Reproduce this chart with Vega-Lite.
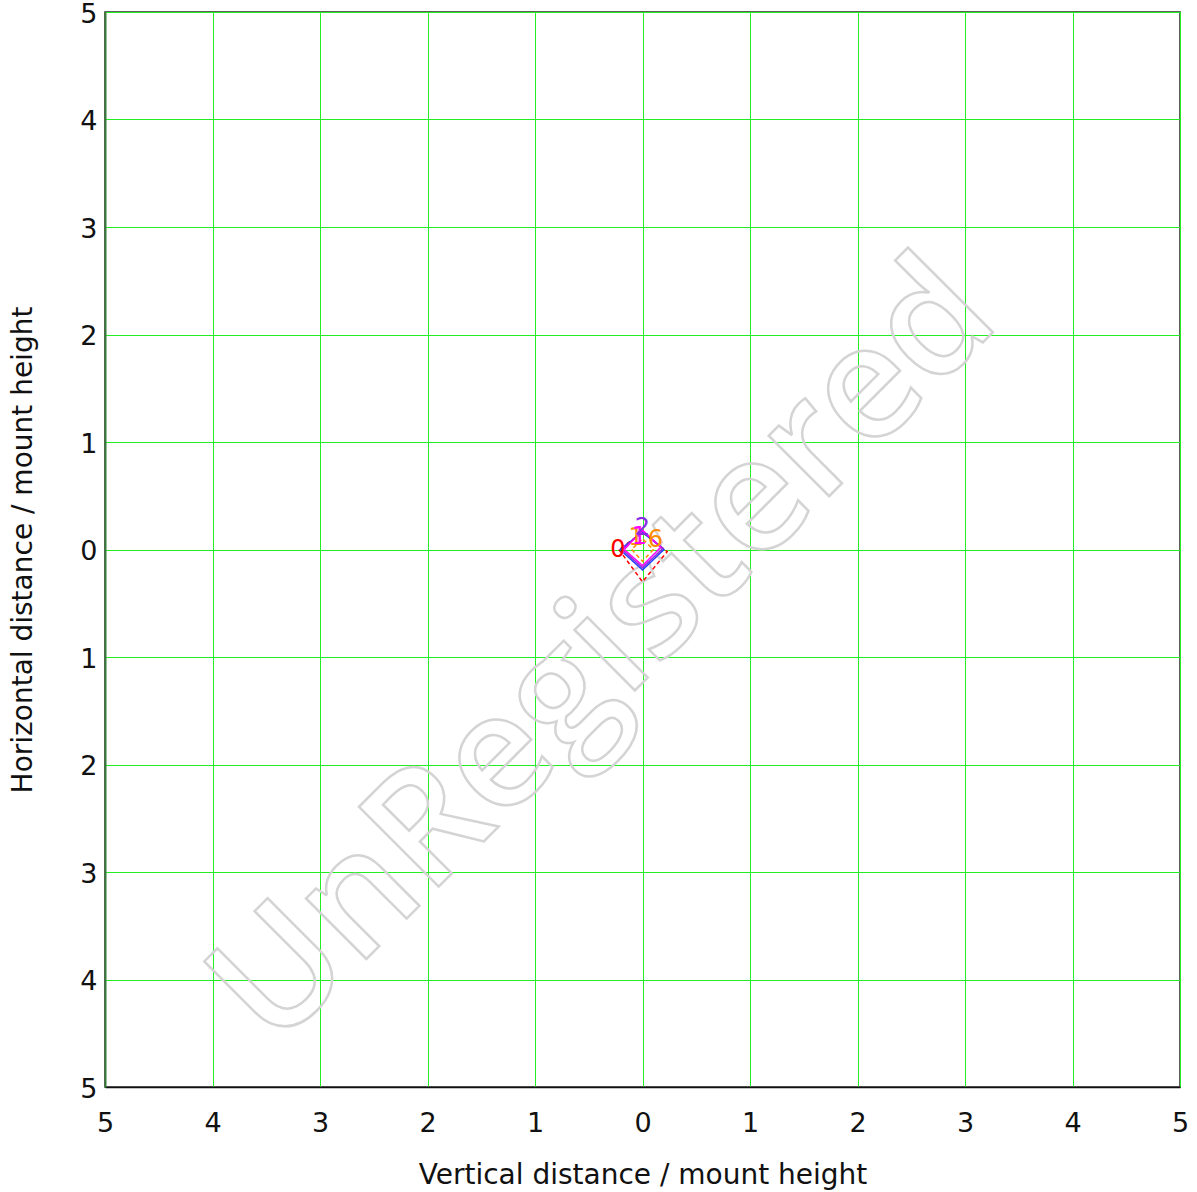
{
  "$schema": "https://vega.github.io/schema/vega-lite/v6.json",
  "width": 1075,
  "height": 1075,
  "autosize": "none",
  "padding": {"left": 105, "top": 12, "right": 17, "bottom": 105},
  "background": "white",
  "config": {
    "view": {"stroke": "#2a2a2a", "strokeWidth": 1.5},
    "axis": {
      "labelFont": "DejaVu Sans",
      "labelFontSize": 27,
      "labelColor": "#111111",
      "labelFlush": false,
      "labelOverlap": false,
      "titleFont": "DejaVu Sans",
      "titleFontSize": 28,
      "titleFontWeight": "normal",
      "titleColor": "#111111",
      "grid": true,
      "gridColor": "#22ee22",
      "gridWidth": 1,
      "gridOpacity": 1,
      "ticks": false
    }
  },
  "datasets": {
    "shapes": [
      {"series": "red", "dash": "dashed", "i": 0, "x": -0.22, "y": 0.0},
      {"series": "red", "dash": "dashed", "i": 1, "x": 0.0, "y": -0.3},
      {"series": "red", "dash": "dashed", "i": 2, "x": 0.23, "y": -0.02},
      {"series": "red", "dash": "dashed", "i": 3, "x": 0.0, "y": 0.16},
      {"series": "red", "dash": "dashed", "i": 4, "x": -0.22, "y": 0.0},
      {"series": "orange", "dash": "dashed", "i": 0, "x": -0.1, "y": 0.0},
      {"series": "orange", "dash": "dashed", "i": 1, "x": 0.0, "y": -0.11},
      {"series": "orange", "dash": "dashed", "i": 2, "x": 0.1, "y": 0.0},
      {"series": "orange", "dash": "dashed", "i": 3, "x": 0.0, "y": 0.1},
      {"series": "orange", "dash": "dashed", "i": 4, "x": -0.1, "y": 0.0},
      {"series": "blue", "dash": "solid", "i": 0, "x": -0.21, "y": 0.0},
      {"series": "blue", "dash": "solid", "i": 1, "x": 0.0, "y": -0.19},
      {"series": "blue", "dash": "solid", "i": 2, "x": 0.2, "y": 0.0},
      {"series": "blue", "dash": "solid", "i": 3, "x": 0.0, "y": 0.16},
      {"series": "blue", "dash": "solid", "i": 4, "x": -0.21, "y": 0.0},
      {"series": "purple", "dash": "solid", "i": 0, "x": -0.19, "y": 0.0},
      {"series": "purple", "dash": "solid", "i": 1, "x": 0.0, "y": -0.17},
      {"series": "purple", "dash": "solid", "i": 2, "x": 0.19, "y": 0.01},
      {"series": "purple", "dash": "solid", "i": 3, "x": 0.0, "y": 0.17},
      {"series": "purple", "dash": "solid", "i": 4, "x": -0.19, "y": 0.0},
      {"series": "magenta", "dash": "solid", "i": 0, "x": -0.17, "y": 0.0},
      {"series": "magenta", "dash": "solid", "i": 1, "x": 0.0, "y": -0.15},
      {"series": "magenta", "dash": "solid", "i": 2, "x": 0.17, "y": 0.02},
      {"series": "magenta", "dash": "solid", "i": 3, "x": 0.0, "y": 0.18},
      {"series": "magenta", "dash": "solid", "i": 4, "x": -0.17, "y": 0.0}
    ],
    "labels": [
      {"series": "red", "label": "0", "x": -0.23, "y": 0.0},
      {"series": "orange", "label": "1", "x": -0.06, "y": 0.11},
      {"series": "orange", "label": "6", "x": 0.12, "y": 0.09},
      {"series": "magenta", "label": "1", "x": -0.03, "y": 0.12},
      {"series": "purple", "label": "2", "x": 0.0, "y": 0.2}
    ],
    "watermark": [
      {"text": "UnRegistered", "x": -0.04, "y": -1.28}
    ]
  },
  "encoding": {
    "x": {
      "field": "x", "type": "quantitative",
      "scale": {"domain": [-5, 5], "nice": false, "zero": false},
      "axis": {
        "values": [-5, -4, -3, -2, -1, 0, 1, 2, 3, 4, 5],
        "labelExpr": "abs(datum.value)",
        "title": "Vertical distance / mount height",
        "labelPadding": 23,
        "titlePadding": 25,
        "domainColor": "#111111",
        "domainWidth": 1.5
      }
    },
    "y": {
      "field": "y", "type": "quantitative",
      "scale": {"domain": [-5, 5], "nice": false, "zero": false},
      "axis": {
        "values": [-5, -4, -3, -2, -1, 0, 1, 2, 3, 4, 5],
        "labelExpr": "abs(datum.value)",
        "title": "Horizontal distance / mount height",
        "labelPadding": 8,
        "labelOffset": 2,
        "titlePadding": 42,
        "domainColor": "#3a7a3a",
        "domainWidth": 2
      }
    }
  },
  "layer": [
    {
      "data": {"name": "watermark"},
      "mark": {
        "type": "text",
        "font": "Open Sans",
        "fontWeight": 600,
        "fontSize": 158,
        "angle": -45,
        "align": "center",
        "baseline": "alphabetic",
        "fill": "white",
        "fillOpacity": 0,
        "stroke": "#d4d4d4",
        "strokeWidth": 2.5
      },
      "encoding": {
        "text": {"field": "text"}
      }
    },
    {
      "data": {"name": "shapes"},
      "mark": {"type": "line", "strokeWidth": 1.5},
      "encoding": {
        "order": {"field": "i", "type": "quantitative"},
        "detail": {"field": "series"},
        "color": {
          "field": "series", "type": "nominal", "legend": null,
          "scale": {"domain": ["red", "orange", "blue", "purple", "magenta"], "range": ["#ff0000", "#ff8c00", "#2040ff", "#8a2be2", "#ff00ff"]}
        },
        "strokeDash": {
          "field": "dash", "type": "nominal", "legend": null,
          "scale": {"domain": ["solid", "dashed"], "range": [[1, 0], [4, 3]]}
        }
      }
    },
    {
      "data": {"name": "labels"},
      "mark": {"type": "text", "font": "DejaVu Sans", "fontSize": 24, "align": "center", "baseline": "middle"},
      "encoding": {
        "text": {"field": "label"},
        "color": {"field": "series", "type": "nominal", "legend": null}
      }
    }
  ]
}
